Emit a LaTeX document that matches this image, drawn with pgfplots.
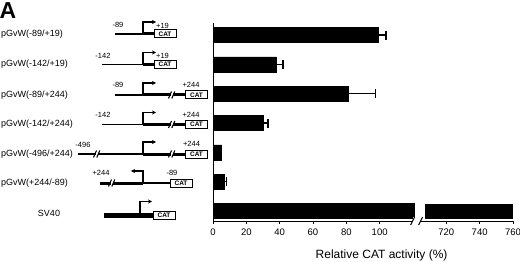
\documentclass[border=0pt]{standalone}
\usepackage{fontspec}
\setmainfont{Liberation Sans}
\usepackage{pgfplots}
\pgfplotsset{compat=1.18}
\usetikzlibrary{arrows.meta}
\begin{document}
\begin{tikzpicture}
\useasboundingbox (0pt,0pt) rectangle (520pt,-262pt);
\begin{axis}[
  at={(213pt,-221pt)}, anchor=south west,
  scale only axis, width=300pt, height=198pt,
  xmin=0, xmax=180,
  ymin=-0.34, ymax=6.41,
  ytick=\empty,
  axis x line*=bottom, axis y line*=left,
  axis line style={line width=1pt, black},
  xtick={0,20,40,60,80,100,140,160,180},
  xticklabels={0,20,40,60,80,100,720,740,760},
  tick align=outside, major tick length=3pt,
  tick style={line width=1pt, black},
  xticklabel style={font=\fontsize{9.5}{10}\selectfont, yshift=-1pt},
  /pgf/number format/assume math mode=true,
  xlabel={Relative CAT activity (\%)},
  xlabel style={at={(axis description cs:0.562,-0.172)}, anchor=center, font=\fontsize{12}{14}\selectfont},
  clip=false,
]
% bars (SV40 = 760 %, left segment drawn up to the axis break)
\addplot[xbar, bar width=15pt, fill=black, draw=black] coordinates {
  (99,6) (38,5) (81,4) (30,3) (5.2,2) (6.6,1) (121,0)
  };
% right-hand segment of the SV40 bar, after the break (706 to 760 %)
\addplot[fill=black, draw=none] coordinates {
  (127,-0.2557) (180,-0.2557) (180,0.2557) (127,0.2557)
  } -- cycle;
% error bars
\addplot[draw=none, mark=none, forget plot,
  error bars/.cd, x dir=plus, x explicit,
  error mark=|,
  error bar style={line width=1.1pt, black},
  error mark options={line width=1.1pt, mark size=4.5pt, black}]
  coordinates {
  (99,6) +- (4.8,0)
  (38,5) +- (4,0)
  (81,4) +- (16.5,0)
  (30,3) +- (3,0)
  (6.6,1) +- (1.6,0)
  };
% axis break marks
\fill[white] ([xshift=0pt,yshift=-4pt]axis cs:119.8,-0.34) rectangle ([yshift=4pt]axis cs:124.6,-0.34);
\draw[line width=1pt] ([xshift=-2pt,yshift=-4pt]axis cs:119.8,-0.34) -- ([xshift=2pt,yshift=4pt]axis cs:119.8,-0.34);
\draw[line width=1pt] ([xshift=-2pt,yshift=-4pt]axis cs:124.6,-0.34) -- ([xshift=2pt,yshift=4pt]axis cs:124.6,-0.34);
\end{axis}

\begin{scope}[x=1pt,y=-1pt,
  thin/.style={line width=1.5pt},
  thk/.style={line width=3pt},
  arr/.style={line width=1.1pt,-{Stealth[length=4pt,width=4pt]}},
  cat/.style={draw, line width=1pt, fill=white, minimum width=22pt, minimum height=8pt, inner sep=0pt, font=\bfseries\fontsize{6.5}{7}\selectfont},
  num/.style={font=\fontsize{7.5}{8}\selectfont, inner sep=0pt},
  lab/.style={font=\fontsize{9}{10}\selectfont, inner sep=0pt, anchor=west}]
\node[anchor=base west, inner sep=0pt, font=\bfseries\fontsize{23}{24}\selectfont] at (-0.5,18.5) {A};

\def\brk#1#2{\fill[white] (#1-0.5,#2-5) rectangle (#1+2,#2+5);
  \draw[line width=1.1pt] (#1-2.5,#2+3.5) -- (#1+0.5,#2-3.5);
  \draw[line width=1.1pt] (#1+0.8,#2+3.5) -- (#1+3.8,#2-3.5);}

% Row 1
\def\y{34}
\node[lab] at (1,\y) {pGvW(-89/+19)};
\draw[thin] (115,\y) -- (143,\y);
\draw[thk] (143,\y) -- (154,\y);
\draw[arr] (143,\y) -- (143,\y-12) -- (156,\y-12);
\node[cat] at (165,\y) {CAT};
\node[num] at (118,\y-9) {-89};
\node[num] at (162.5,\y-8.5) {+19};

% Row 2
\def\y{64.5}
\node[lab] at (1,\y) {pGvW(-142/+19)};
\draw[thin] (102,\y) -- (143,\y);
\draw[thk] (143,\y) -- (154,\y);
\draw[arr] (143,\y) -- (143,\y-12) -- (156,\y-12);
\node[cat] at (165,\y) {CAT};
\node[num] at (103,\y-9) {-142};
\node[num] at (162.5,\y-8.5) {+19};

% Row 3
\def\y{95}
\node[lab] at (1,\y) {pGvW(-89/+244)};
\draw[thin] (115,\y) -- (143,\y);
\draw[thk] (143,\y) -- (185,\y);
\brk{171}{\y}
\draw[arr] (143,\y) -- (143,\y-12) -- (156,\y-12);
\node[cat] at (196.5,\y) {CAT};
\node[num] at (118,\y-10) {-89};
\node[num] at (191,\y-10) {+244};

% Row 4
\def\y{124.5}
\node[lab] at (1,\y) {pGvW(-142/+244)};
\draw[thin] (102,\y) -- (143,\y);
\draw[thk] (143,\y) -- (185,\y);
\brk{171}{\y}
\draw[arr] (143,\y) -- (143,\y-12) -- (156,\y-12);
\node[cat] at (196.5,\y) {CAT};
\node[num] at (103,\y-10) {-142};
\node[num] at (191,\y-10) {+244};

% Row 5
\def\y{154}
\node[lab] at (1,\y) {pGvW(-496/+244)};
\draw[thin] (78,\y) -- (143,\y);
\brk{96}{\y}
\draw[thk] (143,\y) -- (185,\y);
\brk{171}{\y}
\draw[arr] (143,\y) -- (143,\y-12) -- (156,\y-12);
\node[cat] at (196.5,\y) {CAT};
\node[num] at (83,\y-9.5) {-496};
\node[num] at (191.5,\y-10) {+244};

% Row 6
\def\y{183}
\node[lab] at (1,\y) {pGvW(+244/-89)};
\draw[thk] (100,\y) -- (143,\y);
\brk{111}{\y}
\draw[thin] (143,\y) -- (170,\y);
\draw[arr] (143,\y) -- (143,\y-12) -- (131,\y-12);
\node[cat] at (181,\y) {CAT};
\node[num] at (101,\y-10) {+244};
\node[num] at (172,\y-10) {-89};

% Row 7
\def\y{215.5}
\node[font=\fontsize{9}{10}\selectfont, inner sep=0pt] at (49,\y-2) {SV40};
\draw[line width=4.7pt] (104,\y) -- (153,\y);
\draw[arr] (140,\y-2.5) -- (140,\y-14) -- (152,\y-14);
\node[cat] at (164,\y) {CAT};
\end{scope}
\end{tikzpicture}
\end{document}
